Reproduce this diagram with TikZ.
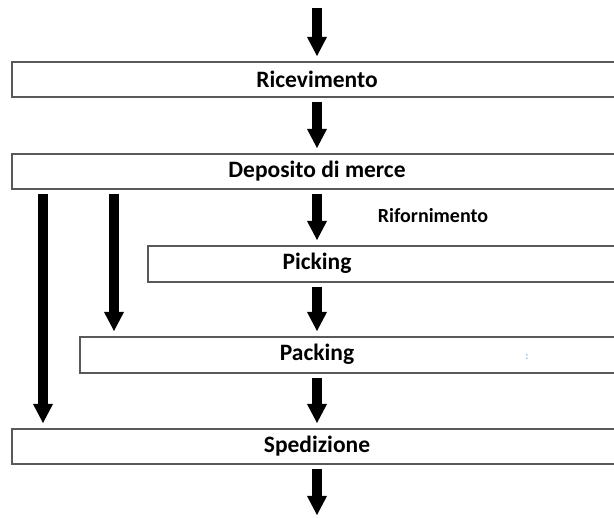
\documentclass[tikz,border=0pt]{standalone}
\usepackage{fontspec}
\setmainfont{Carlito}
\usetikzlibrary{arrows.meta}
\definecolor{boxline}{gray}{0.35}
\definecolor{faintblue}{RGB}{130,190,235}
\tikzset{
  stage/.style={draw=boxline, line width=1.6pt, fill=white, rectangle, anchor=north west, inner sep=0pt},
  stagetext/.style={font=\bfseries\fontsize{23.5}{26}\selectfont, inner sep=0pt},
  flow/.style={line width=10pt, -{Triangle[length=19pt,width=20pt,line width=0pt]}},
  note/.style={font=\bfseries\fontsize{20}{23}\selectfont, inner sep=0pt}
}
\begin{document}
\begin{tikzpicture}[x=1pt,y=-1pt]
\useasboundingbox (0,0) rectangle (614,518);
\clip (0,0) rectangle (614,518);

% process stages (boxes run off the right-hand side)
\node[stage, minimum width=612pt, minimum height=35pt] (ric) at (11,61) {};
\node[stage, minimum width=612pt, minimum height=35pt] (dep) at (11,153) {};
\node[stage, minimum width=476pt, minimum height=36pt] (pic) at (147,245) {};
\node[stage, minimum width=544pt, minimum height=36pt] (pac) at (79,336) {};
\node[stage, minimum width=612pt, minimum height=35pt] (spe) at (11,428) {};

% stage labels
\node[stagetext] (tric) at (317,79) {Ricevimento};
\node[stagetext] (tdep) at (317,171) {Deposito di merce};
\node[stagetext] (tpic) at (317,263) {Picking};
\node[stagetext] (tpac) at (317,354) {Packing};
\node[stagetext] (tspe) at (317,446) {Spedizione};
\node[note] (rif) at (433,216) {Rifornimento};
\node[font=\bfseries\fontsize{11}{12}\selectfont, text=faintblue, inner sep=0pt] (mark) at (527,357) {:};

% free ends of the main flow
\coordinate (in) at (317,8);
\coordinate (out) at (317,515);

% main flow column
\draw[flow] (in) -- ([yshift=5pt]ric.north -| in);
\draw[flow] ([yshift=-4pt]ric.south -| in) -- ([yshift=5pt]dep.north -| in);
\draw[flow] ([yshift=-4pt]dep.south -| in) -- ([yshift=5pt]pic.north -| in);
\draw[flow] ([yshift=-4pt]pic.south -| in) -- ([yshift=5pt]pac.north -| in);
\draw[flow] ([yshift=-4pt]pac.south -| in) -- ([yshift=5pt]spe.north -| in);
\draw[flow] ([yshift=-4pt]spe.south -| in) -- (out);

% bypass flows from storage
\coordinate (byA) at (43,0);
\coordinate (byB) at (114,0);
\draw[flow] ([yshift=-4pt]dep.south -| byA) -- ([yshift=5pt]spe.north -| byA);
\draw[flow] ([yshift=-4pt]dep.south -| byB) -- ([yshift=5pt]pac.north -| byB);
\end{tikzpicture}
\end{document}
